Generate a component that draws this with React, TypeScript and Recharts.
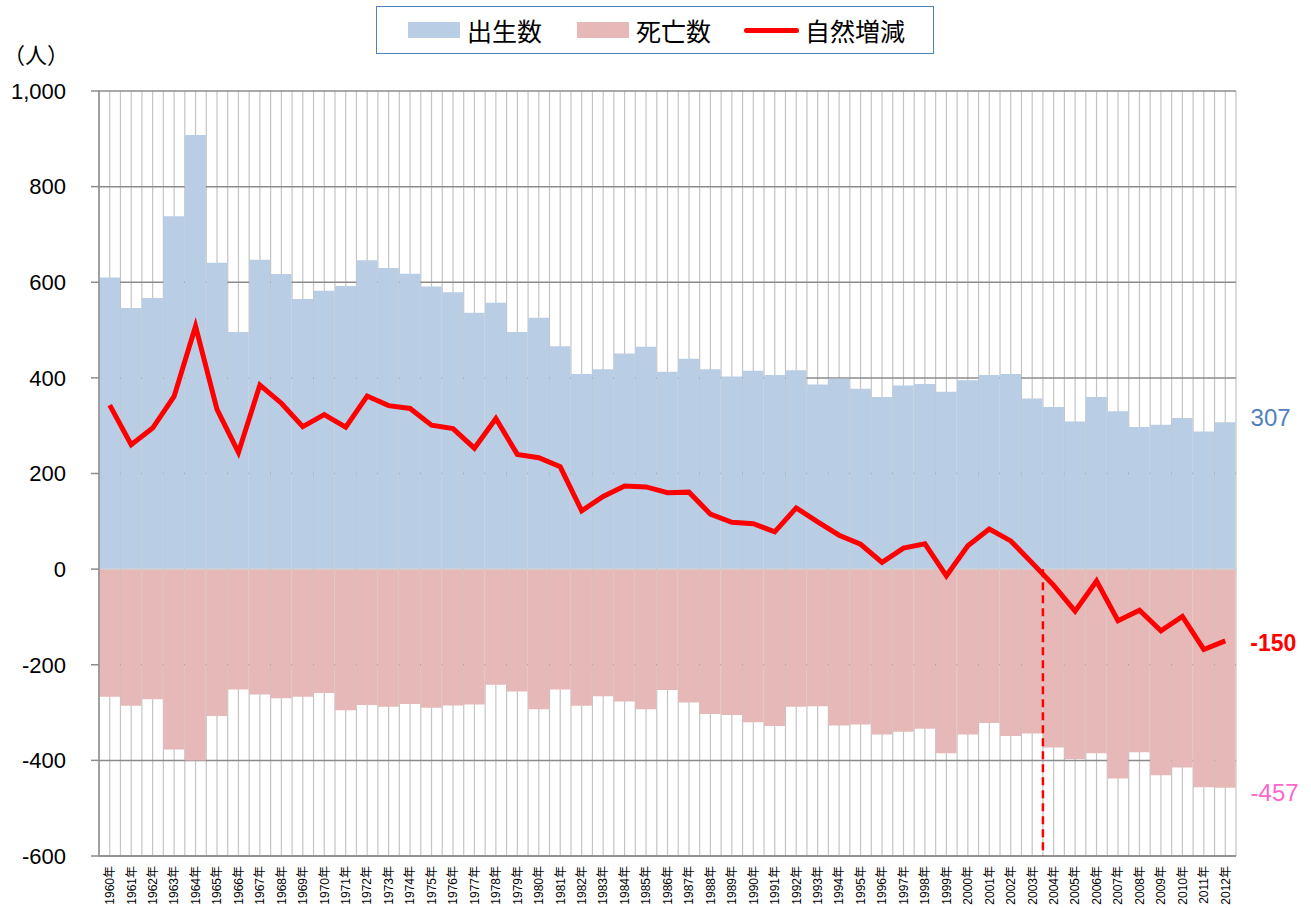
import {
  Bar,
  CartesianGrid,
  ComposedChart,
  LabelList,
  Legend,
  Line,
  ReferenceLine,
  XAxis,
  YAxis,
} from "recharts";

const years = [
  "1960年", "1961年", "1962年", "1963年", "1964年", "1965年", "1966年", "1967年", "1968年", "1969年",
  "1970年", "1971年", "1972年", "1973年", "1974年", "1975年", "1976年", "1977年", "1978年", "1979年",
  "1980年", "1981年", "1982年", "1983年", "1984年", "1985年", "1986年", "1987年", "1988年", "1989年",
  "1990年", "1991年", "1992年", "1993年", "1994年", "1995年", "1996年", "1997年", "1998年", "1999年",
  "2000年", "2001年", "2002年", "2003年", "2004年", "2005年", "2006年", "2007年", "2008年", "2009年",
  "2010年", "2011年", "2012年",
];

// 出生数
const births = [
  610, 546, 567, 738, 908, 641, 496, 647, 617, 565,
  582, 592, 646, 630, 618, 591, 579, 536, 557, 496,
  526, 466, 408, 418, 451, 465, 413, 440, 418, 403,
  415, 406, 416, 386, 398, 377, 360, 384, 387, 371,
  395, 406, 408, 357, 339, 309, 360, 330, 297, 302,
  316, 288, 307,
];

// 死亡数 (negative)
const deaths = [
  -267, -286, -272, -377, -400, -307, -252, -262, -270, -267,
  -259, -295, -284, -288, -282, -290, -285, -283, -242, -256,
  -293, -252, -286, -266, -277, -293, -253, -279, -303, -305,
  -320, -328, -288, -287, -327, -325, -346, -340, -334, -385,
  -346, -322, -349, -344, -373, -397, -385, -438, -383, -431,
  -415, -456, -457,
];

// 自然増減
const netChange = [
  343, 260, 295, 361, 508, 334, 244, 385, 347, 298,
  323, 297, 362, 342, 336, 301, 294, 253, 315, 240,
  233, 214, 122, 152, 174, 172, 160, 161, 115, 98,
  95, 78, 128, 99, 71, 52, 14, 44, 53, -14,
  49, 84, 59, 13, -34, -88, -25, -108, -86, -129,
  -99, -168, -150,
];

const yTicks = [1000, 800, 600, 400, 200, 0, -200, -400, -600];
const markerYear = "2003年";

const BLUE = "#b9cde5";
const PINK = "#e6b9b8";
const RED = "#ff0000";
const FONT = '"Liberation Sans", "Noto Sans CJK JP", sans-serif';
const JP = '"Noto Sans CJK JP", sans-serif';

const rows = years.map((year, i) => ({
  year,
  births: births[i],
  deaths: deaths[i],
  net: netChange[i],
}));

const lastIndex = years.length - 1;

function YearTick({ x, y, payload }: any) {
  return (
    <g transform={`translate(${x},${y})`}>
      <text
        transform="rotate(-90)"
        x={-2}
        dy="0.36em"
        textAnchor="end"
        fontSize={12}
        fontFamily={FONT}
        fill="#000"
      >
        {payload.value}
      </text>
    </g>
  );
}

function box(props: any) {
  const vb = props.viewBox || {};
  const x = vb.x ?? props.x;
  const y = vb.y ?? props.y;
  const w = vb.width ?? props.width ?? 0;
  const h = vb.height ?? props.height ?? 0;
  return { x, y, w, top: Math.min(y, y + h), bottom: Math.max(y, y + h) };
}

// only the last year gets a value label, outside the plot on the right
function endLabel(kind: "top" | "bottom" | "point", color: string, bold = false) {
  return (props: any) => {
    if (props.index !== lastIndex) return null;
    const b = box(props);
    const tx = kind === "point" ? b.x + 25 : b.x + b.w + 15;
    const ty = kind === "top" ? b.top - 5 : kind === "bottom" ? b.bottom + 5 : b.y + 2;
    return (
      <text
        x={tx}
        y={ty}
        dominantBaseline="central"
        fontSize={bold ? 23 : 24}
        fontFamily={FONT}
        fontWeight={bold ? 700 : 400}
        fill={color}
      >
        {props.value}
      </text>
    );
  };
}

function LegendBox() {
  const label = { marginLeft: 7, lineHeight: "26px" };
  return (
    <div
      style={{
        boxSizing: "border-box",
        width: 558,
        height: 48,
        border: "1.5px solid #4f81bd",
        background: "#fff",
        display: "flex",
        alignItems: "center",
        paddingLeft: 31,
        fontFamily: JP,
        fontSize: 25,
        color: "#000",
      }}
    >
      <span style={{ width: 52, height: 16, background: BLUE }} />
      <span style={label}>出生数</span>
      <span style={{ width: 52, height: 16, background: PINK, marginLeft: 35 }} />
      <span style={label}>死亡数</span>
      <span style={{ width: 55, height: 5, borderRadius: 3, background: RED, marginLeft: 33 }} />
      <span style={{ ...label, marginLeft: 6 }}>自然増減</span>
    </div>
  );
}

export default function App() {
  return (
    <div style={{ position: "absolute", left: 0, top: 0, width: 1311, height: 908, background: "#fff" }}>
      <div
        style={{
          position: "absolute",
          left: 3,
          top: 38,
          fontFamily: JP,
          fontSize: 22,
          lineHeight: "30px",
          color: "#000",
          zIndex: 2,
        }}
      >
        （人）
      </div>
      <ComposedChart
        width={1311}
        height={908}
        data={rows}
        margin={{ top: 91, right: 75, bottom: 0, left: 39 }}
        barCategoryGap={0}
        barGap={0}
        stackOffset="sign"
      >
        <CartesianGrid
          horizontal={false}
          stroke="#c4c4c4"
          strokeWidth={1.2}
          verticalCoordinatesGenerator={({ offset }: any) => {
            const n = years.length * 2;
            const step = offset.width / n;
            return Array.from({ length: n + 1 }, (_, i) => offset.left + i * step);
          }}
        />
        <CartesianGrid vertical={false} stroke="#8c8c8c" strokeWidth={1.5} />
        <XAxis
          dataKey="year"
          interval={0}
          tickLine={false}
          axisLine={{ stroke: "#8c8c8c", strokeWidth: 1.5 }}
          height={52}
          tick={<YearTick />}
        />
        <YAxis
          type="number"
          domain={[-600, 1000]}
          ticks={yTicks}
          interval={0}
          width={60}
          tickSize={8}
          tickMargin={25}
          axisLine={{ stroke: "#8c8c8c", strokeWidth: 1.5 }}
          tickLine={{ stroke: "#8c8c8c", strokeWidth: 1.5 }}
          tick={{ fontSize: 22, fontFamily: FONT, fill: "#000" }}
          tickFormatter={(v: number) => v.toLocaleString("en-US")}
        />
        <Legend
          layout="horizontal"
          verticalAlign="middle"
          align="center"
          wrapperStyle={{ top: 6, left: 376, width: 558, height: 48 }}
          content={<LegendBox />}
        />
        <Bar dataKey="births" stackId="pop" fill={BLUE} isAnimationActive={false} name="出生数">
          <LabelList dataKey="births" content={endLabel("top", "#4f81bd")} />
        </Bar>
        <Bar dataKey="deaths" stackId="pop" fill={PINK} isAnimationActive={false} name="死亡数">
          <LabelList dataKey="deaths" content={endLabel("bottom", "#ff66cc")} />
        </Bar>
        <ReferenceLine y={0} stroke="#d9d9d9" strokeWidth={1} />
        <ReferenceLine
          segment={[
            { x: markerYear, y: 0 },
            { x: markerYear, y: -600 },
          ]}
          position="end"
          stroke={RED}
          strokeWidth={2.5}
          strokeDasharray="8 5"
        />
        <Line
          type="linear"
          dataKey="net"
          stroke={RED}
          strokeWidth={5}
          dot={false}
          isAnimationActive={false}
          name="自然増減"
        >
          <LabelList dataKey="net" content={endLabel("point", RED, true)} />
        </Line>
      </ComposedChart>
    </div>
  );
}
